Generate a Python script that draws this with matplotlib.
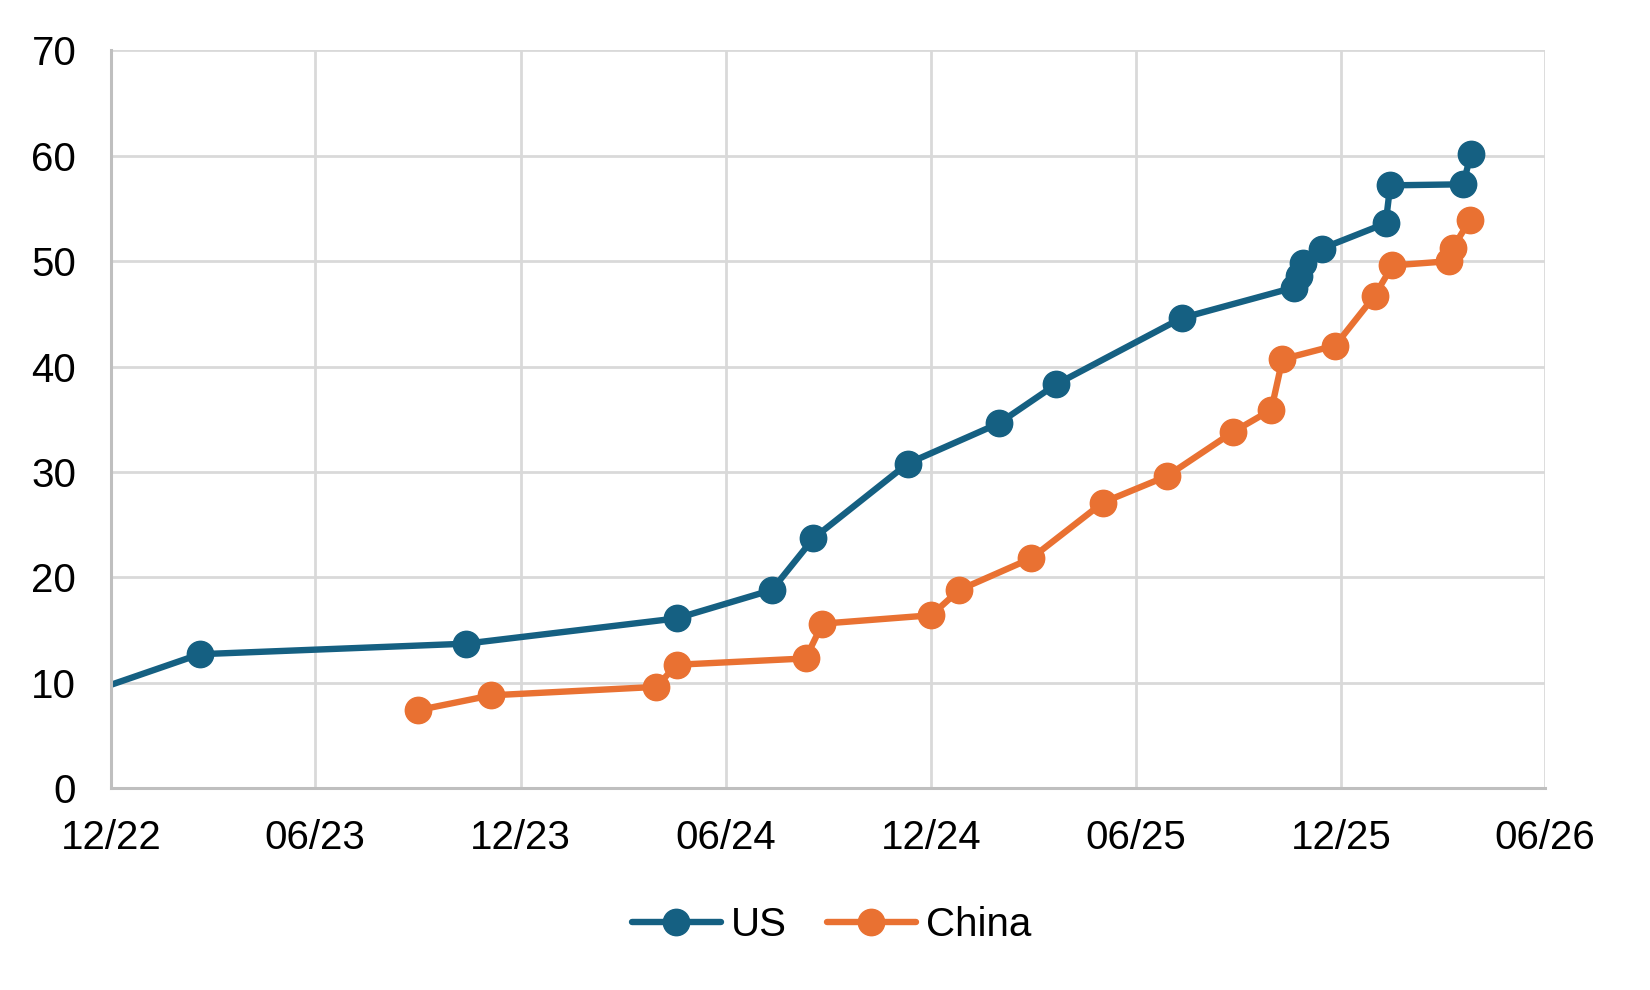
import matplotlib
matplotlib.use('Agg')
import matplotlib.pyplot as plt
import matplotlib.dates as mdates
import numpy as np

plt.rcParams['font.family'] = ['Liberation Sans', 'DejaVu Sans']

us_dates = ['2022-11-01', '2023-02-18', '2023-10-13', '2024-04-18', '2024-07-12',
            '2024-08-18', '2024-11-10', '2025-01-30', '2025-03-22', '2025-07-12',
            '2025-10-20', '2025-10-25', '2025-10-28', '2025-11-14', '2026-01-10',
            '2026-01-14', '2026-03-20', '2026-03-27']
us_values = [8.7, 12.7, 13.7, 16.1, 18.8,
             23.7, 30.8, 34.6, 38.3, 44.6,
             47.5, 48.6, 49.8, 51.2, 53.6,
             57.2, 57.3, 60.2]

china_dates = ['2023-09-01', '2023-11-05', '2024-03-31', '2024-04-18', '2024-08-11',
               '2024-08-26', '2024-12-01', '2024-12-26', '2025-02-28', '2025-05-03',
               '2025-06-29', '2025-08-27', '2025-09-30', '2025-10-10', '2025-11-26',
               '2025-12-31', '2026-01-16', '2026-03-07', '2026-03-11', '2026-03-26']
china_values = [7.4, 8.8, 9.6, 11.7, 12.3,
                15.6, 16.4, 18.8, 21.8, 27.1,
                29.6, 33.8, 35.9, 40.7, 42.0,
                46.7, 49.6, 50.0, 51.3, 53.9]

blue = '#156082'
orange = '#E97132'

fig = plt.figure(figsize=(16.5, 9.9), dpi=100)
ax = fig.add_axes([0.0673, 0.204, 0.8691, 0.745])

us_x = np.array(us_dates, dtype='datetime64[D]')
cn_x = np.array(china_dates, dtype='datetime64[D]')

ax.plot(us_x, us_values, color=blue, lw=4.6, marker='o', markersize=19,
        label='US', solid_capstyle='round', zorder=3)
ax.plot(cn_x, china_values, color=orange, lw=4.6, marker='o', markersize=19,
        label='China', solid_capstyle='round', zorder=3)

ax.set_xlim(np.datetime64('2022-12-01'), np.datetime64('2026-06-01'))
ax.set_ylim(0, 70)
ax.set_yticks(range(0, 71, 10))
ax.xaxis.set_major_locator(mdates.MonthLocator(bymonth=(6, 12)))
ax.xaxis.set_major_formatter(mdates.DateFormatter('%m/%y'))

ax.grid(True, color='#D9D9D9', lw=2)
ax.set_axisbelow(True)
for side in ['top', 'right']:
    ax.spines[side].set_visible(False)
for side in ['left', 'bottom']:
    ax.spines[side].set_color('#BFBFBF')
    ax.spines[side].set_linewidth(2.2)
    ax.spines[side].set_zorder(4)

ax.tick_params(axis='both', length=0, labelsize=29, colors='black')
ax.tick_params(axis='x', pad=22)
ax.tick_params(axis='y', pad=25)

fig.legend(loc='center', bbox_to_anchor=(0.504, 0.066), ncol=2, frameon=False,
           fontsize=29, handlelength=2.2, columnspacing=1.0, handletextpad=0.25)

fig.savefig('out.png', dpi=100)
